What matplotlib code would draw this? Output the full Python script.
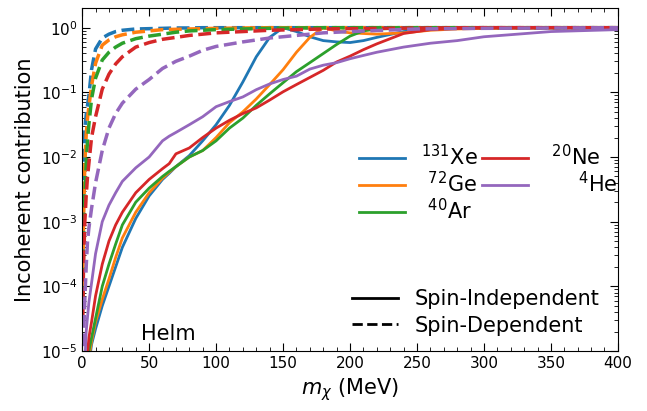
import numpy as np
import matplotlib
matplotlib.use('Agg')
import matplotlib.pyplot as plt
from matplotlib.lines import Line2D
from matplotlib.ticker import MultipleLocator

# dark matter mass grid (MeV) and incoherent fraction, spin-independent
x_si = [1, 2, 3, 5, 7, 10, 15, 20, 25, 30, 40, 50, 60, 65, 70, 80, 90, 100, 110, 120,
        130, 140, 150, 160, 170, 180, 190, 200, 210, 220, 240, 260, 280, 300, 350, 400]
xe_si = [1e-8, 1e-7, 1e-6, 6.3e-6, 1.26e-5, 2.2e-5, 5.0e-5, 1.0e-4, 2.0e-4, 4.0e-4,
         1.12e-3, 2.5e-3, 4.5e-3, 5.6e-3, 7.1e-3, 1.05e-2, 1.78e-2, 3.16e-2, 6.3e-2, 0.145,
         0.355, 0.708, 1.0, 0.871, 0.724, 0.631, 0.603, 0.589, 0.631, 0.708,
         0.871, 0.955, 0.977, 1.0, 1.0, 1.0]
ge_si = [1e-8, 1e-7, 1e-6, 7.9e-6, 1.4e-5, 2.8e-5, 6.3e-5, 1.3e-4, 2.8e-4, 5.6e-4,
         1.4e-3, 2.8e-3, 4.7e-3, 5.8e-3, 7.1e-3, 1.0e-2, 1.26e-2, 2.0e-2, 3.4e-2, 5.0e-2,
         7.9e-2, 0.132, 0.224, 0.417, 0.708, 1.0, 0.891, 0.832, 0.813, 0.794,
         0.832, 0.912, 0.955, 0.977, 1.0, 1.0]
ar_si = [1e-8, 3e-7, 3e-6, 1e-5, 1.6e-5, 3.2e-5, 1e-4, 2.2e-4, 4.5e-4, 8.9e-4,
         2.0e-3, 3.3e-3, 5.0e-3, 6.0e-3, 7.1e-3, 1.0e-2, 1.26e-2, 1.78e-2, 2.8e-2, 4.0e-2,
         6.3e-2, 9.5e-2, 0.141, 0.209, 0.288, 0.398, 0.55, 0.741, 0.891, 0.955,
         0.977, 1.0, 1.0, 1.0, 1.0, 1.0]
ne_si = [1e-7, 1e-6, 5e-6, 1.6e-5, 2.8e-5, 7.1e-5, 2.2e-4, 5.0e-4, 8.9e-4, 1.4e-3,
         2.8e-3, 4.5e-3, 6.6e-3, 7.9e-3, 1.12e-2, 1.38e-2, 2.0e-2, 2.8e-2, 3.7e-2, 4.7e-2,
         5.75e-2, 7.6e-2, 0.102, 0.132, 0.17, 0.219, 0.295, 0.363, 0.457, 0.562,
         0.813, 0.933, 0.977, 1.0, 1.0, 1.0]
he_si = [1e-6, 6.3e-6, 2.0e-5, 5.6e-5, 1.12e-4, 3.2e-4, 1.0e-3, 1.8e-3, 2.8e-3, 4.2e-3,
         6.8e-3, 1.0e-2, 1.78e-2, 2.1e-2, 2.4e-2, 3.16e-2, 4.2e-2, 6.0e-2, 7.2e-2, 8.5e-2,
         0.11, 0.135, 0.158, 0.178, 0.229, 0.263, 0.288, 0.331, 0.372, 0.417,
         0.501, 0.575, 0.631, 0.724, 0.871, 0.933]

# spin-dependent
x_sd = [0.5, 1, 2, 3, 4, 5, 7, 10, 15, 20, 25, 30, 40, 50, 60, 70, 80, 90, 100,
        120, 140, 160, 180, 200, 250, 300, 400]
xe_sd = [3.2e-4, 3.2e-3, 2.8e-2, 4.5e-2, 6.3e-2, 8.9e-2, 0.224, 0.468, 0.692, 0.794,
         0.871, 0.912, 0.955, 0.966, 0.977, 0.99, 0.99, 1.0, 1.0,
         1.0, 1.0, 1.0, 1.0, 1.0, 1.0, 1.0, 1.0]
ge_sd = [1e-4, 1e-3, 7.9e-3, 2.2e-2, 4.0e-2, 6.0e-2, 0.126, 0.282, 0.537, 0.646,
         0.724, 0.776, 0.851, 0.891, 0.933, 0.944, 0.955, 0.966, 0.977,
         0.99, 1.0, 1.0, 1.0, 1.0, 1.0, 1.0, 1.0]
ar_sd = [6.3e-5, 4.0e-4, 2.5e-3, 7.9e-3, 1.78e-2, 3.16e-2, 7.9e-2, 0.166, 0.316, 0.417,
         0.501, 0.575, 0.676, 0.741, 0.794, 0.851, 0.891, 0.912, 0.933,
         0.955, 0.977, 0.99, 1.0, 1.0, 1.0, 1.0, 1.0]
ne_sd = [3.2e-5, 2.0e-4, 1.0e-3, 2.5e-3, 5.0e-3, 7.9e-3, 2.0e-2, 4.2e-2, 0.112, 0.191,
         0.275, 0.355, 0.501, 0.589, 0.661, 0.708, 0.759, 0.794, 0.832,
         0.871, 0.912, 0.933, 0.955, 0.966, 0.989, 1.0, 1.0]
he_sd = [3.2e-6, 1.6e-5, 6.3e-5, 2.0e-4, 5.0e-4, 7.9e-4, 1.6e-3, 4.0e-3, 1.26e-2, 2.8e-2,
         4.7e-2, 6.8e-2, 0.112, 0.158, 0.234, 0.302, 0.363, 0.447, 0.513,
         0.603, 0.692, 0.759, 0.832, 0.871, 0.955, 0.977, 1.0]

labels = ['$^{131}$Xe', ' $^{72}$Ge', ' $^{40}$Ar', ' $^{20}$Ne', '     $^{4}$He']
colors = ['C0', 'C1', 'C2', 'C3', 'C4']
si_curves = [xe_si, ge_si, ar_si, ne_si, he_si]
sd_curves = [xe_sd, ge_sd, ar_sd, ne_sd, he_sd]

fig = plt.figure(figsize=(6.47, 4.11), dpi=100)
ax = fig.add_axes([0.127, 0.146, 0.828, 0.834])

handles = []
for si, sd, c, lab in zip(si_curves, sd_curves, colors, labels):
    h, = ax.plot(x_si, si, color=c, lw=2, label=lab)
    ax.plot(x_sd, sd, color=c, lw=2.5, ls='--')
    handles.append(h)

ax.set_yscale('log')
ax.set_xlim(0, 400)
ax.set_ylim(1e-5, 2)
ax.xaxis.set_minor_locator(MultipleLocator(10))
ax.tick_params(which='both', direction='in', top=True, right=True, labelsize=11)
ax.tick_params(which='major', length=6)
ax.tick_params(which='minor', length=3)
ax.set_xlabel(r'$m_\chi$ (MeV)', fontsize=15)
ax.set_ylabel('Incoherent contribution', fontsize=15)

ax.text(0.16, 0.05, 'Helm', transform=ax.transAxes, fontsize=15,
        ha='center', va='center')

leg1 = ax.legend(handles=handles, ncol=2, fontsize=15, frameon=False,
                 loc='center right', bbox_to_anchor=(1.034, 0.488),
                 columnspacing=0.2, labelspacing=0.1, handlelength=2.2)
ax.add_artist(leg1)

style_handles = [Line2D([], [], color='k', lw=2, ls='-'),
                 Line2D([], [], color='k', lw=2, ls='--')]
ax.legend(handles=style_handles, labels=['Spin-Independent', 'Spin-Dependent'],
          fontsize=15, frameon=False, loc='lower right',
          bbox_to_anchor=(1.0, -0.01), labelspacing=0.3, handlelength=2.2)

fig.savefig('out.png', dpi=100)
